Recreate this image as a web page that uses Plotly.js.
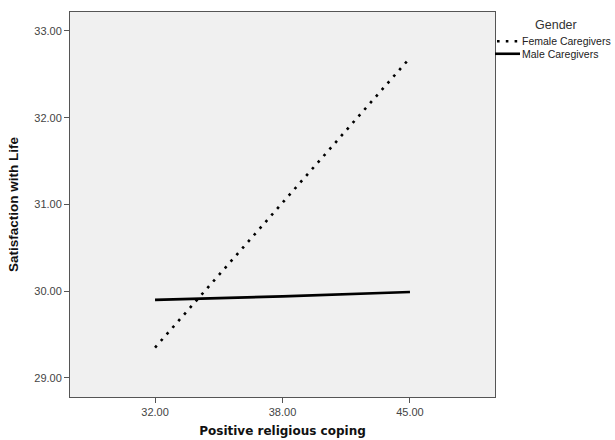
<!DOCTYPE html>
<html>
<head>
<meta charset="utf-8">
<script src="https://cdn.plot.ly/plotly-3.0.1.min.js"></script>
<style>html,body{margin:0;padding:0;background:#fff;}#chart{width:615px;height:440px;}</style>
</head>
<body>
<div id="chart"></div>
<script>
var copingLevels = ["32.00", "38.00", "45.00"];
var femaleValues = [29.35, 31.02, 32.69];
var maleValues = [29.90, 29.94, 29.99];
var seriesNames = ["Female Caregivers", "Male Caregivers"];
var legendTitle = "Gender";
var xTitle = "Positive religious coping";
var yTitle = "Satisfaction with Life";

var FONT = "Liberation Sans, Arial, sans-serif";
var WIDE = "DejaVu Sans, Verdana, sans-serif";
var DOT = "2.6px,6.2px";

var traces = [
  {
    x: copingLevels, y: femaleValues, name: seriesNames[0],
    type: "scatter", mode: "lines", showlegend: false,
    line: {color: "#000000", width: 2.6, dash: DOT}
  },
  {
    x: copingLevels, y: maleValues, name: seriesNames[1],
    type: "scatter", mode: "lines", showlegend: false,
    line: {color: "#000000", width: 2.6}
  }
];

// Legend built in paper coordinates (right of plot area)
var yFemale = 0.9240, yMale = 0.8915;
var legendShapes = [
  {type: "line", xref: "paper", yref: "paper", x0: 1.0047, x1: 1.0588, y0: yFemale, y1: yFemale,
   line: {color: "#000000", width: 2.6, dash: DOT}},
  {type: "line", xref: "paper", yref: "paper", x0: 1.0, x1: 1.0588, y0: yMale, y1: yMale,
   line: {color: "#000000", width: 2.6}}
];
var legendAnnotations = [
  {xref: "paper", yref: "paper", x: 1.1435, y: 0.9662, xanchor: "center", yanchor: "middle",
   text: legendTitle, showarrow: false, font: {family: FONT, size: 12.5, color: "#333333"}},
  {xref: "paper", yref: "paper", x: 1.062, y: yFemale, xanchor: "left", yanchor: "middle",
   text: seriesNames[0], showarrow: false, borderpad: 0, font: {family: FONT, size: 10.5, color: "#222222"}},
  {xref: "paper", yref: "paper", x: 1.062, y: yMale, xanchor: "left", yanchor: "middle",
   text: seriesNames[1], showarrow: false, borderpad: 0, font: {family: FONT, size: 10.5, color: "#222222"}}
];

var layout = {
  width: 615, height: 440,
  margin: {l: 70, r: 120, t: 12, b: 43, autoexpand: false},
  paper_bgcolor: "#ffffff",
  plot_bgcolor: "#f0f0f0",
  font: {family: FONT, size: 11, color: "#444444"},
  showlegend: false,
  shapes: legendShapes,
  annotations: legendAnnotations,
  xaxis: {
    type: "category",
    range: [-0.667, 2.667],
    showline: true, mirror: true, linecolor: "#555555", linewidth: 1,
    showgrid: false, zeroline: false,
    ticks: "outside", ticklen: 5, tickcolor: "#555555",
    tickfont: {family: FONT, size: 11, color: "#444444"},
    title: {text: xTitle, font: {family: WIDE, size: 12, color: "#111111", weight: "bold"}, standoff: 9}
  },
  yaxis: {
    range: [28.78, 33.219],
    tickvals: [29, 30, 31, 32, 33],
    tickformat: ".2f",
    showline: true, mirror: true, linecolor: "#555555", linewidth: 1,
    showgrid: false, zeroline: false,
    ticks: "outside", ticklen: 5, tickcolor: "#555555",
    tickfont: {family: FONT, size: 11, color: "#444444"},
    title: {text: yTitle, font: {family: FONT, size: 13.5, color: "#111111", weight: "bold"}, standoff: 12}
  }
};

Plotly.newPlot("chart", traces, layout, {displayModeBar: false, responsive: false});
</script>
</body>
</html>
